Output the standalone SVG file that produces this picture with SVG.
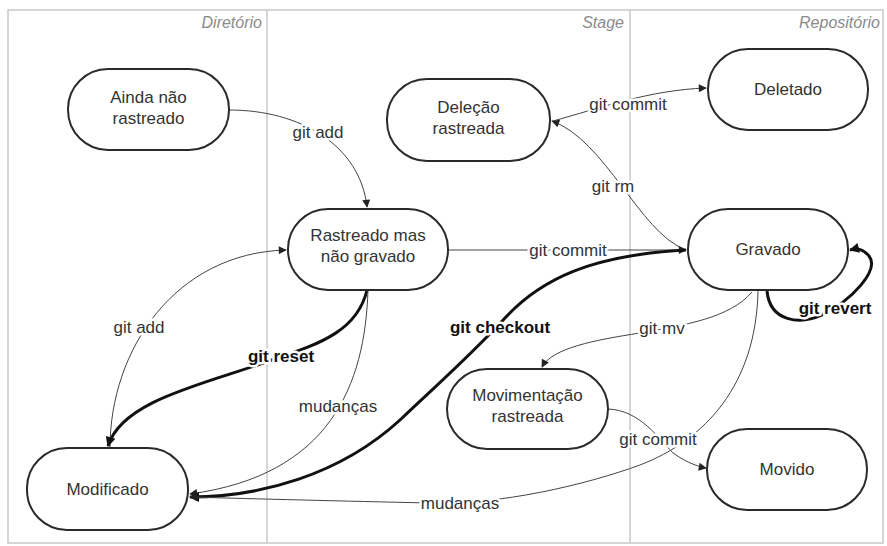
<svg xmlns="http://www.w3.org/2000/svg" width="887" height="546" viewBox="0 0 887 546">
<defs>
<marker id="ah" viewBox="0 0 10 10" refX="9" refY="5" markerWidth="10" markerHeight="8" markerUnits="userSpaceOnUse" orient="auto"><path d="M0,0 L10,5 L0,10 z" fill="#222"/></marker>
<marker id="ahb" viewBox="0 0 10 10" refX="9" refY="5" markerWidth="13" markerHeight="10" markerUnits="userSpaceOnUse" orient="auto"><path d="M0,0 L10,5 L0,10 z" fill="#111"/></marker>
<style>
.lane{fill:none;stroke:#c8c8c8;stroke-width:1.5}
.lt{font-family:"Liberation Sans",Arial,sans-serif;font-size:16px;font-style:italic;fill:#8a8a8a;text-anchor:end}
.node rect{fill:#fff;stroke:#2a2a2a;stroke-width:2}
.node text{font-family:"Liberation Sans",Arial,sans-serif;font-size:17px;fill:#333;text-anchor:middle}
.c{fill:none;stroke:#444;stroke-width:1;marker-end:url(#ah)}
.cb{fill:none;stroke:#111;stroke-width:3;marker-end:url(#ahb)}
.lb{font-family:"Liberation Sans",Arial,sans-serif;font-size:17px;fill:#333;text-anchor:middle;stroke:#fff;stroke-width:5;paint-order:stroke;stroke-linejoin:round}
.lbb{font-weight:bold;fill:#111}
</style>
</defs>
<rect x="0" y="0" width="887" height="546" fill="#fff"/>
<g id="lanes">
<rect class="lane" x="8" y="10" width="875" height="533"/>
<line class="lane" x1="267" y1="10" x2="267" y2="543"/>
<line class="lane" x1="630" y1="10" x2="630" y2="543"/>
<text class="lt" x="262" y="28">Diretório</text>
<text class="lt" x="624" y="28">Stage</text>
<text class="lt" x="880" y="28">Repositório</text>
</g>
<g id="connectors">
<path class="c" d="M229,110 C300,110 360,145 367,207"/>
<path class="c" d="M684,249 C640,232 605,140 552,121"/>
<path class="c" d="M553,121 C600,108 650,90 706,88"/>
<path class="c" d="M448,250 L686,250"/>
<path class="c" d="M110,448 C110,350 175,253 286,250"/>
<path class="cb" d="M367,290 C357,333 315,345 272,360 C205,384 122,400 108,446"/>
<path class="c" d="M368,290 C365,385 330,475 190,494"/>
<path class="cb" d="M686,250 C590,255 540,280 505,318 C470,356 440,382 400,420 C340,475 260,497 190,497"/>
<path class="c" d="M758,291 C756,385 705,440 640,465 C585,485 500,505 430,503 C340,501 260,499 190,497"/>
<path class="c" d="M752,292 C730,318 685,325 640,333 C595,340 552,348 542,367"/>
<path class="c" d="M608,409 C640,410 660,440 672,452 C682,460 695,466 706,468"/>
<path class="cb" d="M767,291 C770,322 800,325 822,315 C852,300 880,270 869,256 C863,249 858,248 850,250"/>
<text class="lb" x="318" y="138">git add</text>
<text class="lb" x="613" y="192">git rm</text>
<text class="lb" x="628" y="110">git commit</text>
<text class="lb" x="568" y="256">git commit</text>
<text class="lb" x="139" y="333">git add</text>
<text class="lb lbb" x="281" y="362">git reset</text>
<text class="lb" x="338" y="412">mudanças</text>
<text class="lb lbb" x="500" y="333">git checkout</text>
<text class="lb" x="662" y="334">git mv</text>
<text class="lb lbb" x="835" y="314">git revert</text>
<text class="lb" x="658" y="445">git commit</text>
<text class="lb" x="460" y="509">mudanças</text>
</g>
<g id="ainda" class="node"><rect x="68" y="69" width="161" height="81" rx="40"/><text x="148.5" y="103">Ainda não</text><text x="148.5" y="124">rastreado</text></g>
<g id="delecao" class="node"><rect x="387" y="79" width="163" height="82" rx="40"/><text x="468.5" y="113">Deleção</text><text x="468.5" y="134">rastreada</text></g>
<g id="deletado" class="node"><rect x="708" y="49" width="160" height="81" rx="40"/><text x="788" y="95">Deletado</text></g>
<g id="rastreado" class="node"><rect x="288" y="209" width="160" height="81" rx="40"/><text x="368" y="241">Rastreado mas</text><text x="368" y="262">não gravado</text></g>
<g id="gravado" class="node"><rect x="688" y="209" width="160" height="81" rx="40"/><text x="768" y="255">Gravado</text></g>
<g id="modificado" class="node"><rect x="27" y="448" width="161" height="82" rx="40"/><text x="107.5" y="495">Modificado</text></g>
<g id="movimentacao" class="node"><rect x="447" y="369" width="161" height="80" rx="40"/><text x="527.5" y="401">Movimentação</text><text x="527.5" y="422">rastreada</text></g>
<g id="movido" class="node"><rect x="707" y="429" width="160" height="81" rx="40"/><text x="787" y="475">Movido</text></g>
</svg>
